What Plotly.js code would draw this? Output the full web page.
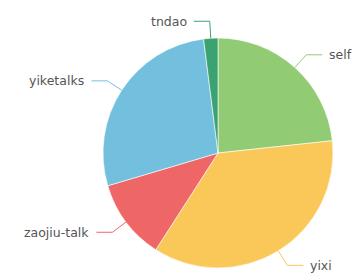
<!DOCTYPE html>
<html>
<head>
<meta charset="utf-8">
<script src="https://cdn.plot.ly/plotly-3.0.1.min.js"></script>
<style>html,body{margin:0;padding:0;background:#fff;}#chart{width:354px;height:273px;}</style>
</head>
<body>
<div id="chart"></div>
<script>
const labels = ["self", "yixi", "zaojiu-talk", "yiketalks", "tndao"];
const values = [23.3, 35.8, 11.3, 27.6, 2.0];
const colors = ["#91cc75", "#fac858", "#ee6666", "#73c0de", "#3ba272"];

const W = 354, H = 273;
const cx = 218, cy = 153, R = 115;   // pie centre / radius in px
const len1 = 17, len2 = 16, gap = 5;

const domain = {
  x: [(cx - R) / W, (cx + R) / W],
  y: [(H - cy - R) / H, (H - cy + R) / H]
};

const total = values.reduce((a, b) => a + b, 0);
const shapes = [], annotations = [];
let acc = 0;
const px = x => x / W, py = y => (H - y) / H;
values.forEach((v, i) => {
  const mid = (acc + v / 2) / total * 2 * Math.PI;
  acc += v;
  const sx = Math.sin(mid), sy = -Math.cos(mid);
  const x0 = cx + R * sx, y0 = cy + R * sy;
  const x1 = cx + (R + len1) * sx, y1 = cy + (R + len1) * sy;
  const dir = sx >= 0 ? 1 : -1;
  const x2 = x1 + dir * len2;
  const lc = colors[i];
  shapes.push({type: "line", xref: "paper", yref: "paper", x0: px(x0), y0: py(y0), x1: px(x1), y1: py(y1), line: {color: lc, width: 1}});
  shapes.push({type: "line", xref: "paper", yref: "paper", x0: px(x1), y0: py(y1), x1: px(x2), y1: py(y1), line: {color: lc, width: 1}});
  annotations.push({
    xref: "paper", yref: "paper", x: px(x2 + dir * gap), y: py(y1),
    xanchor: dir > 0 ? "left" : "right", yanchor: "middle",
    text: labels[i], showarrow: false,
    font: {family: "DejaVu Sans, sans-serif", size: 12.5, color: "#555"}
  });
});

const data = [{
  type: "pie",
  labels: labels,
  values: values,
  sort: false,
  direction: "clockwise",
  rotation: 0,
  textinfo: "none",
  hoverinfo: "label+percent",
  marker: {colors: colors, line: {color: "#fff", width: 0.6}},
  domain: domain,
  showlegend: false
}];

const layout = {
  width: W, height: H,
  margin: {l: 0, r: 0, t: 0, b: 0},
  paper_bgcolor: "#fff",
  showlegend: false,
  shapes: shapes,
  annotations: annotations
};

Plotly.newPlot("chart", data, layout, {displayModeBar: false, staticPlot: true});
</script>
</body>
</html>
